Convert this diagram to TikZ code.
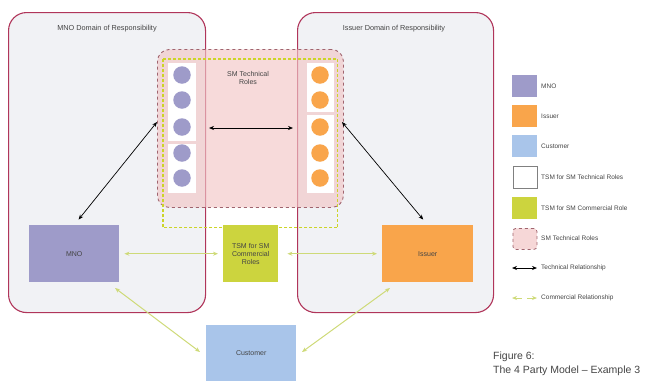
\documentclass[tikz,border=0pt]{standalone}
\usepackage{fontspec}
\setmainfont{Liberation Sans}
\usetikzlibrary{arrows.meta}
\definecolor{domfill}{HTML}{F1F2F5}
\definecolor{domline}{HTML}{B0355A}
\definecolor{mnoc}{HTML}{9E9BC9}
\definecolor{issc}{HTML}{F9A54B}
\definecolor{cusc}{HTML}{A9C5EA}
\definecolor{tsmc}{HTML}{CCD43E}
\definecolor{pinkc}{HTML}{F2C6C6}
\definecolor{pinkline}{HTML}{A0646E}
\definecolor{yline}{RGB}{204,212,40}
\definecolor{comline}{HTML}{CEDA78}
\definecolor{txt}{HTML}{444444}
\tikzset{
  dom/.style={draw=domline, line width=1.1pt, fill=domfill, rounded corners=18pt, inner sep=0pt},
  domlabel/.style={font=\fontsize{7.3}{8}\selectfont, text=txt},
  party/.style={draw=none, inner sep=0pt, font=\fontsize{7}{8}\selectfont, text=txt, align=center},
  col/.style={fill=white, draw=none, inner sep=0pt},
  dot/.style={circle, minimum size=17.5pt, inner sep=0pt, draw=none},
  tech/.style={black, line width=0.7pt, {Stealth[length=5pt,width=4pt]}-{Stealth[length=5pt,width=4pt]}},
  comm/.style={comline, line width=1pt, {Stealth[length=5pt,width=4pt]}-{Stealth[length=5pt,width=4pt]}},
  ydash/.style={yline, line width=1.5pt, dash pattern=on 3pt off 2pt},
  leg/.style={anchor=west, font=\fontsize{6.5}{8}\selectfont, text=txt, inner sep=0pt},
  legsq/.style={minimum width=25pt, minimum height=22pt, inner sep=0pt, anchor=north west},
  captxt/.style={anchor=west, font=\fontsize{10.5}{12}\selectfont, text=txt, inner sep=0pt}
}
\begin{document}
\begin{tikzpicture}[x=1pt,y=-1pt]
\useasboundingbox (0,0) rectangle (646,381);
% domains
\node[dom, minimum width=197pt, minimum height=300pt, anchor=north west] (mnodom) at (8,12) {};
\node[dom, minimum width=196pt, minimum height=300pt, anchor=north west] (issdom) at (297,12) {};
\node[domlabel] (mnodomt) at (107,29) {MNO Domain of Responsibility};
\node[domlabel] (issdomt) at (394,29) {Issuer Domain of Responsibility};
% SM technical roles
\begin{scope}
\node[draw=pinkline, dashed, line width=0.9pt, fill=pinkc, fill opacity=0.65, rounded corners=12pt, minimum width=186pt, minimum height=158pt, anchor=north west, inner sep=0pt] (smtr) at (157,49) {};
\end{scope}
\node[draw=none, inner sep=0pt, minimum width=174pt, minimum height=168pt, anchor=north west] (tsmbox) at (163,59) {};
\draw[ydash] (tsmbox.north west) -- (tsmbox.north east);
\draw[ydash] (tsmbox.north east) -- (tsmbox.south east);
\draw[ydash] (tsmbox.south east) -- (tsmbox.south west);
\draw[ydash] (tsmbox.south west) -- (tsmbox.north west);
\node[party] (smtrt) at (248,78) {SM Technical\\Roles};
% columns
\node[col, minimum width=28pt, minimum height=78pt, anchor=north west] (lc1) at (168,63) {};
\node[col, minimum width=28pt, minimum height=49pt, anchor=north west] (lc2) at (168,144) {};
\node[col, minimum width=27pt, minimum height=49pt, anchor=north west] (rc1) at (307,63) {};
\node[col, minimum width=27pt, minimum height=78pt, anchor=north west] (rc2) at (307,115) {};
\foreach \y [count=\i] in {75,100,127,153,178}{
  \node[dot, fill=mnoc] (lm\i) at (182,\y) {};
  \node[dot, fill=issc] (ri\i) at (320,\y) {};
}
% parties
\node[party, fill=mnoc, minimum width=90pt, minimum height=57pt, anchor=north west] (mno) at (29,225) {MNO};
\node[party, fill=tsmc, minimum width=55pt, minimum height=57pt, anchor=north west] (tsm) at (223,225) {TSM for SM\\Commercial\\Roles};
\node[party, fill=issc, minimum width=91pt, minimum height=57pt, anchor=north west] (iss) at (382,225) {Issuer};
\node[party, fill=cusc, minimum width=90pt, minimum height=56pt, anchor=north west] (cus) at (206,325) {Customer};
% connector end points
\coordinate (tl) at (209,128);
\coordinate (tr) at (293,128);
\coordinate (pl) at (157,122);
\coordinate (pr) at (342,122);
\coordinate (mc) at (115,288);
\coordinate (cl) at (200,352);
\coordinate (ic) at (390,288);
\coordinate (cr) at (302,352);
% technical relationships
\draw[tech] (tl) -- (tr);
\draw[tech, shorten >=7pt] (pl) -- (mno.north);
\draw[tech, shorten >=7pt] (pr) -- (iss.north);
% commercial relationships
\draw[comm, shorten <=5pt, shorten >=5pt] (mno.east) -- (tsm.west);
\draw[comm, shorten <=9pt, shorten >=5pt] (tsm.east) -- (iss.west);
\draw[comm] (mc) -- (cl);
\draw[comm] (ic) -- (cr);
% legend
\node[legsq, fill=mnoc] (l1) at (512,75) {};
\node[leg] (l1t) at (541,86) {MNO};
\node[legsq, fill=issc] (l2) at (512,105) {};
\node[leg] (l2t) at (541,116) {Issuer};
\node[legsq, fill=cusc] (l3) at (512,135) {};
\node[leg] (l3t) at (541,146) {Customer};
\node[legsq, fill=white, draw=gray, line width=0.6pt, minimum width=24pt, minimum height=22pt] (l4) at (512.5,165.5) {};
\node[leg] (l4t) at (541,177) {TSM for SM Technical Roles};
\node[legsq, fill=tsmc] (l5) at (512,197) {};
\node[leg] (l5t) at (541,208) {TSM for SM Commercial Role};
\node[legsq, fill=pinkc!70!white, draw=pinkline, dashed, line width=0.8pt, rounded corners=3pt, minimum width=24pt, minimum height=21pt] (l6) at (512.5,228) {};
\node[leg] (l6t) at (541,238) {SM Technical Roles};
\coordinate (a1) at (512,268);
\coordinate (a2) at (537,268);
\draw[tech] (a1) -- (a2);
\node[leg] (l7t) at (541,268) {Technical Relationship};
\coordinate (b1) at (512,298);
\coordinate (b2) at (522,298);
\coordinate (b3) at (527,298);
\coordinate (b4) at (537,298);
\draw[comline, line width=1pt, {Stealth[length=5pt,width=4pt]}-] (b1) -- (b2);
\draw[comline, line width=1pt, -{Stealth[length=5pt,width=4pt]}] (b3) -- (b4);
\node[leg] (l8t) at (541,298) {Commercial Relationship};
% caption
\node[captxt] (c1) at (493,357) {Figure 6:};
\node[captxt] (c2) at (493,371) {The 4 Party Model – Example 3};
\end{tikzpicture}
\end{document}
